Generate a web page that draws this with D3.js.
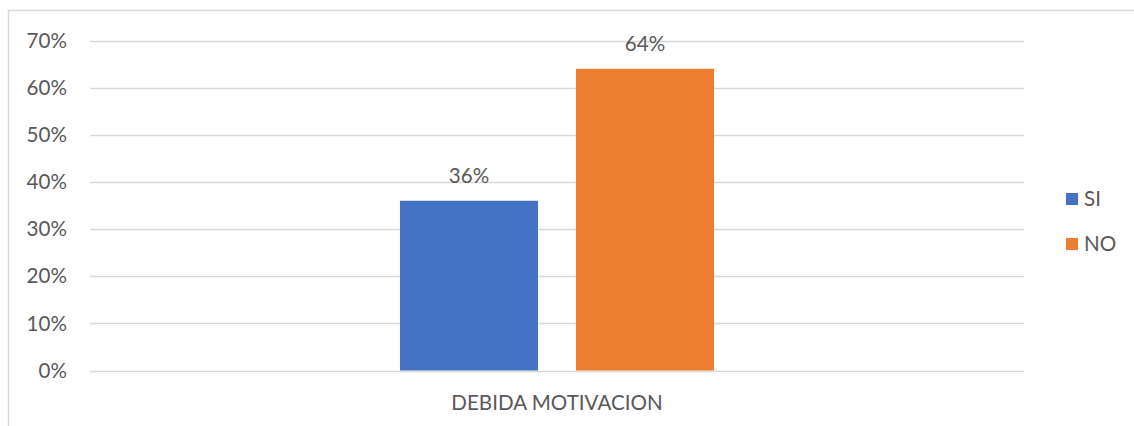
<!DOCTYPE html>
<html>
<head>
<meta charset="utf-8">
<script src="https://cdn.jsdelivr.net/npm/d3@7"></script>
<style>
  body { margin: 0; background: #fff; }
  text { font-family: Lato, "Open Sans", sans-serif; fill: #595959; }
</style>
</head>
<body>
<div id="chart"></div>
<script>
// chart data
const categories = ['DEBIDA MOTIVACION'];
const seriesNames = ['SI', 'NO'];
const seriesValues = [0.36, 0.64];
const seriesColors = ['#4472C4', '#ED7D31'];
const yTicks = [0, 0.1, 0.2, 0.3, 0.4, 0.5, 0.6, 0.7];

const width = 1134, height = 426;
const plot = {left: 90, right: 1024, top: 40.5, bottom: 370.5};
const fontSize = '20.6px';

const svg = d3.select('#chart').append('svg')
    .attr('width', width)
    .attr('height', height);

// outer frame
svg.append('rect')
    .attr('x', 8.5).attr('y', 10.5)
    .attr('width', 1140).attr('height', 440)
    .attr('fill', 'none')
    .attr('stroke', '#d9d9d9')
    .attr('stroke-width', 1.5);

// scales
const yScale = d3.scaleLinear()
    .domain([0, 0.7])
    .range([plot.bottom, plot.top]);

const x0 = d3.scaleBand()
    .domain(categories)
    .range([plot.left, plot.right])
    .paddingInner(0)
    .paddingOuter(0.987);

const x1 = d3.scaleBand()
    .domain(seriesNames)
    .range([0, x0.bandwidth()])
    .paddingInner(0.216)
    .paddingOuter(0);

// grid lines + y labels
const yAxis = svg.append('g').attr('class', 'y-axis');
yAxis.selectAll('line')
    .data(yTicks)
    .enter().append('line')
    .attr('x1', plot.left).attr('x2', plot.right)
    .attr('y1', d => Math.round(yScale(d)) + 0.5)
    .attr('y2', d => Math.round(yScale(d)) + 0.5)
    .attr('stroke', '#d9d9d9')
    .attr('stroke-width', 1.3);

yAxis.selectAll('text')
    .data(yTicks)
    .enter().append('text')
    .attr('x', 67)
    .attr('y', d => yScale(d))
    .attr('dy', '0.35em')
    .attr('text-anchor', 'end')
    .style('font-size', fontSize)
    .text(d => d3.format('.0%')(d));

// bars
const groups = svg.selectAll('.cat')
    .data(categories)
    .enter().append('g')
    .attr('class', 'cat')
    .attr('transform', d => 'translate(' + x0(d) + ',0)');

groups.selectAll('rect')
    .data(() => seriesNames.map((s, i) => ({name: s, value: seriesValues[i], color: seriesColors[i]})))
    .enter().append('rect')
    .attr('x', d => x1(d.name))
    .attr('y', d => yScale(d.value))
    .attr('width', x1.bandwidth())
    .attr('height', d => yScale(0) - yScale(d.value))
    .attr('fill', d => d.color);

groups.selectAll('.lbl')
    .data(() => seriesNames.map((s, i) => ({name: s, value: seriesValues[i]})))
    .enter().append('text')
    .attr('class', 'lbl')
    .attr('x', d => x1(d.name) + x1.bandwidth() / 2)
    .attr('y', d => yScale(d.value) - 18)
    .attr('text-anchor', 'middle')
    .style('font-size', fontSize)
    .text(d => d3.format('.0%')(d.value));

// x category label
svg.selectAll('.xlbl')
    .data(categories)
    .enter().append('text')
    .attr('class', 'xlbl')
    .attr('x', d => x0(d) + x0.bandwidth() / 2)
    .attr('y', 410)
    .attr('text-anchor', 'middle')
    .style('font-size', fontSize)
    .text(d => d);

// legend
const legend = svg.append('g').attr('class', 'legend');
const legendY = [199, 244];
const items = legend.selectAll('g')
    .data(seriesNames)
    .enter().append('g')
    .attr('transform', (d, i) => 'translate(1066,' + legendY[i] + ')');

items.append('rect')
    .attr('x', 0).attr('y', -6)
    .attr('width', 12).attr('height', 12)
    .attr('fill', (d, i) => seriesColors[i]);

items.append('text')
    .attr('x', 18)
    .attr('dy', '0.36em')
    .style('font-size', fontSize)
    .text(d => d);
</script>
</body>
</html>
